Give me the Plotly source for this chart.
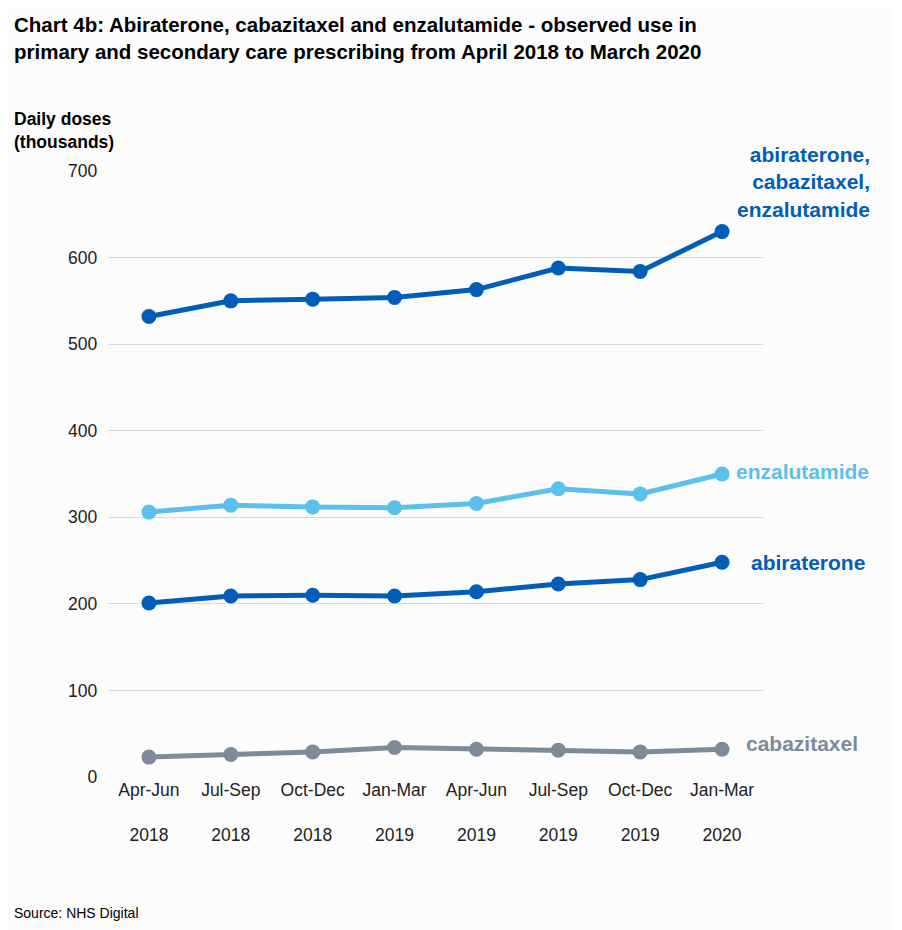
import plotly.graph_objects as go

quarters = ["Apr-Jun<br><br>2018", "Jul-Sep<br><br>2018", "Oct-Dec<br><br>2018", "Jan-Mar<br><br>2019",
            "Apr-Jun<br><br>2019", "Jul-Sep<br><br>2019", "Oct-Dec<br><br>2019", "Jan-Mar<br><br>2020"]
total = [532, 550, 552, 554, 563, 588, 584, 630]
enzalutamide = [306, 314, 312, 311, 316, 333, 327, 350]
abiraterone = [201, 209, 210, 209, 214, 223, 228, 248]
cabazitaxel = [23, 26, 29, 34, 32, 31, 29, 32]

DARK = "#005EB8"
LIGHT = "#5BC0EB"
GREY = "#7C8A99"

fig = go.Figure()
series = [(total, DARK), (enzalutamide, LIGHT), (abiraterone, DARK), (cabazitaxel, GREY)]
for vals, col in series:
    fig.add_trace(go.Scatter(x=list(range(8)), y=vals, mode="lines+markers",
                             line=dict(color=col, width=5), marker=dict(color=col, size=15),
                             showlegend=False, hoverinfo="y"))

labels = [
    ("abiraterone,<br>cabazitaxel,<br>enzalutamide", 630, DARK, 0, 0),
    ("enzalutamide", 350, LIGHT, 12, 3),
    ("abiraterone", 248, DARK, 27, 0),
    ("cabazitaxel", 32, GREY, 22, 6),
]
for txt, y, col, xs, ys in labels:
    fig.add_annotation(x=7, y=y, text="<b>%s</b>" % txt, showarrow=False, xanchor="left",
                       xshift=xs, yshift=ys,
                       font=dict(color=col, size=21, family="Arial, Liberation Sans"),
                       align="right")
# first label sits right-aligned near the edge, above the last point
fig.layout.annotations[0].update(x=1.0, xref="paper", xanchor="left", xshift=-28, yshift=50)

fig.add_annotation(x=0, y=1, xref="paper", yref="paper", xanchor="left", yanchor="top",
                   xshift=-96, yshift=160, showarrow=False, align="left",
                   text="<b>Chart 4b: Abiraterone, cabazitaxel and enzalutamide - observed use in<br>primary and secondary care prescribing from April 2018 to March 2020</b>",
                   font=dict(size=20.5, color="#000"))
fig.add_annotation(x=0, y=1, xref="paper", yref="paper", xanchor="left", yanchor="top",
                   xshift=-96, yshift=64, showarrow=False, align="left",
                   text="<b>Daily doses<br>(thousands)</b>", font=dict(size=17.5, color="#000"))
fig.add_annotation(x=0, y=0, xref="paper", yref="paper", xanchor="left", yanchor="top",
                   xshift=-96, yshift=-126, showarrow=False,
                   text="Source: NHS Digital", font=dict(size=14, color="#000"))

fig.update_layout(
    width=902, height=930, paper_bgcolor="#FCFCFC", plot_bgcolor="#FCFCFC",
    margin=dict(l=100, r=147, t=163, b=161),
    font=dict(family="Arial, Liberation Sans", size=17.5, color="#222"),
    xaxis=dict(tickmode="array", tickvals=list(range(8)), ticktext=quarters,
               range=[-0.5, 7.5], showgrid=False, zeroline=False, showline=False),
    yaxis=dict(range=[0, 700], dtick=100, gridcolor="#D9D9D9", zeroline=False,
               ticksuffix="  "),
)
fig.write_html("out.html")
